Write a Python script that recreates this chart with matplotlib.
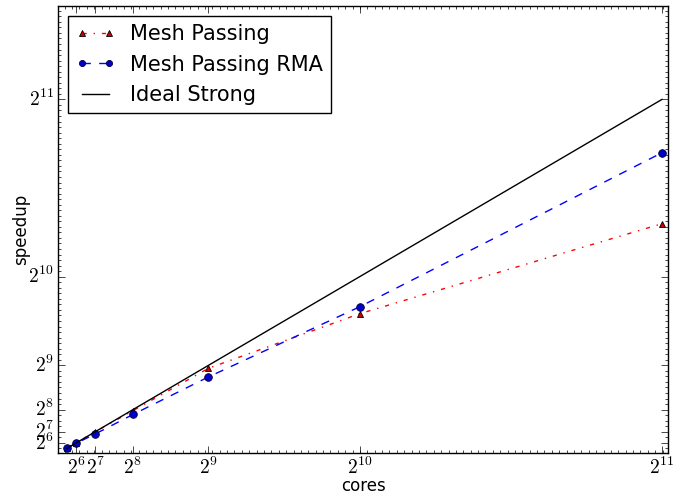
import matplotlib
matplotlib.use("Agg")
import matplotlib.pyplot as plt
from matplotlib.ticker import MultipleLocator

plt.style.use('classic')

cores = [32, 64, 128, 256, 512, 1024, 2048]
mesh_passing = [32, 64, 128, 250, 495, 810, 1330]
mesh_passing_rma = [32, 62, 115, 228, 445, 850, 1740]
ideal_strong = [32, 64, 128, 256, 512, 1024, 2048]

tick_vals = [64, 128, 256, 512, 1024, 2048]
tick_labels = [r'$2^{6}$', r'$2^{7}$', r'$2^{8}$', r'$2^{9}$', r'$2^{10}$', r'$2^{11}$']

fig = plt.figure(figsize=(6.85, 4.95), dpi=100, facecolor='white')
ax = fig.add_axes([0.085, 0.085, 0.89, 0.902])

ax.plot(cores, mesh_passing, 'r-.', marker='^', markersize=5, mfc='#cc0000',
        mec='k', mew=0.6, label='Mesh Passing')
ax.plot(cores, mesh_passing_rma, 'b--', marker='o', markersize=5.5, mfc='#0000cc',
        mec='#000033', mew=0.6, label='Mesh Passing RMA')
ax.plot(cores, ideal_strong, 'k-', label='Ideal Strong')

ax.set_xlim(3, 2068)
ax.set_ylim(6, 2585)
ax.set_xticks(tick_vals)
ax.set_xticklabels(tick_labels)
ax.set_yticks(tick_vals)
ax.set_yticklabels(tick_labels)
ax.xaxis.set_minor_locator(MultipleLocator(25))
ax.yaxis.set_minor_locator(MultipleLocator(32))
ax.tick_params(which='major', length=5, direction='in', labelsize=14, pad=3)
ax.tick_params(which='minor', length=2.5, direction='in')

ax.set_xlabel('cores', fontsize=12)
ax.set_ylabel('speedup', fontsize=12)
ax.xaxis.set_label_coords(0.5, -0.054)
ax.yaxis.set_label_coords(-0.046, 0.5)

leg = ax.legend(loc='upper left', fontsize=15, numpoints=2, fancybox=False,
                markerscale=0.8, handlelength=1.9, handletextpad=0.7,
                borderaxespad=0.45)

fig.savefig('out.png', dpi=100, facecolor='white')
